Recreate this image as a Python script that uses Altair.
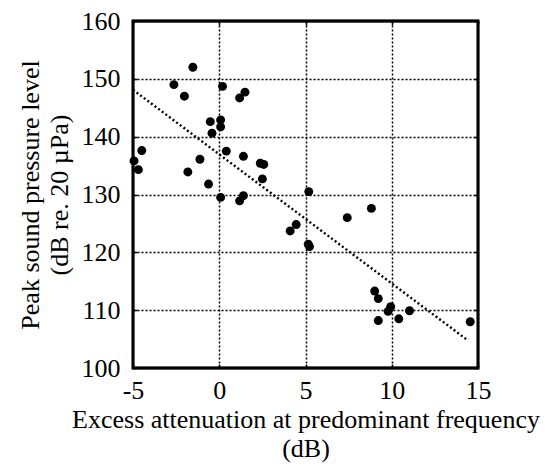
import altair as alt
import pandas as pd

# Excess attenuation (dB) and peak SPL (dB re 20 uPa)
atten = [-4.94, -4.69, -4.49, -2.63, -2.02, -1.53, -1.82, -1.12, -0.62, -0.52, -0.42,
         0.08, 0.08, 0.19, 0.41, 0.08, 1.18, 1.49, 1.40, 1.18, 1.40, 2.38, 2.58, 2.50,
         4.11, 4.46, 5.16, 5.23, 5.19, 7.42, 8.82, 9.01, 9.22, 9.22, 9.79, 9.94, 10.41,
         11.03, 14.55]
spl = [135.8, 134.3, 137.6, 149.0, 147.0, 152.0, 133.9, 136.1, 131.8, 142.6, 140.6,
       142.9, 141.7, 148.7, 137.5, 129.5, 146.7, 147.7, 136.6, 128.9, 129.8, 135.4, 135.2, 132.7,
       123.7, 124.8, 121.4, 121.0, 130.5, 126.0, 127.6, 113.3, 112.0, 108.2, 109.8, 110.6, 108.5,
       109.9, 108.0]

# regression line endpoints
fit_x = [-5.0, 14.4]
fit_y = [148.1, 104.8]

x_ticks = [-5, 0, 5, 10, 15]
y_ticks = [100, 110, 120, 130, 140, 150, 160]
x_range = [-5, 15]
y_range = [100, 160]

pts = pd.DataFrame({"x": atten, "y": spl})
fit = pd.DataFrame({"x": fit_x, "y": fit_y})
box = pd.DataFrame({"x0": [x_range[0]], "x1": [x_range[1]], "y0": [y_range[0]], "y1": [y_range[1]]})

FONT = "Liberation Serif"
FS = 26

xs = alt.Scale(domain=x_range, nice=False, zero=False)
ys = alt.Scale(domain=y_range, nice=False, zero=False)

# main axes: labels + grid, with short inward ticks (offset pulls the axis inside)
common = dict(grid=True, gridDash=[2, 2], gridColor="black", gridWidth=1.5, gridOpacity=1,
              domain=False, ticks=True, tickSize=4, tickWidth=1.5, tickColor="black",
              offset=-4, labelFlush=False, labelOverlap=False,
              labelFontSize=FS, titleFontSize=FS,
              labelFont=FONT, titleFont=FONT, titleFontWeight="normal", labelColor="black",
              titleColor="black", titleLineHeight=29, labelExpr="'' + datum.value")

xaxis = alt.Axis(values=x_ticks, title=["Excess attenuation at predominant frequency", "(dB)"],
                 labelPadding=9, titlePadding=3, **common)
yaxis = alt.Axis(values=y_ticks, title=["Peak sound pressure level", "(dB re. 20 µPa)"],
                 labelPadding=13, titlePadding=9, **common)

# opposite sides: ticks only
side = dict(grid=False, labels=False, title=None, domain=False, ticks=True,
            tickSize=4, tickWidth=1.5, tickColor="black", offset=-4)

frame = alt.Chart(box).mark_rect(fill="white", fillOpacity=0, stroke="black", strokeWidth=2.8).encode(
    x=alt.X("x0:Q", scale=xs, axis=alt.Axis(orient="top", values=x_ticks, **side)),
    x2="x1:Q",
    y=alt.Y("y0:Q", scale=ys, axis=alt.Axis(orient="right", values=y_ticks, **side)),
    y2="y1:Q",
)

points = alt.Chart(pts).mark_circle(size=80, color="black", opacity=1).encode(
    x=alt.X("x:Q", scale=xs, axis=xaxis),
    y=alt.Y("y:Q", scale=ys, axis=yaxis),
)

line = alt.Chart(fit).mark_line(color="black", strokeDash=[2, 2.5], strokeWidth=2.4).encode(
    x=alt.X("x:Q", scale=xs, axis=None),
    y=alt.Y("y:Q", scale=ys, axis=None),
)

chart = alt.layer(frame, line, points).resolve_axis(
    x="independent", y="independent"
).properties(
    width=345, height=347,
    background="white",
    autosize=alt.AutoSizeParams(type="none"),
    padding={"left": 125, "top": 13, "right": 65, "bottom": 95},
).configure_view(stroke="black", strokeWidth=2.5)

chart.save("out.html", embed_options={"renderer": "svg", "actions": False})
